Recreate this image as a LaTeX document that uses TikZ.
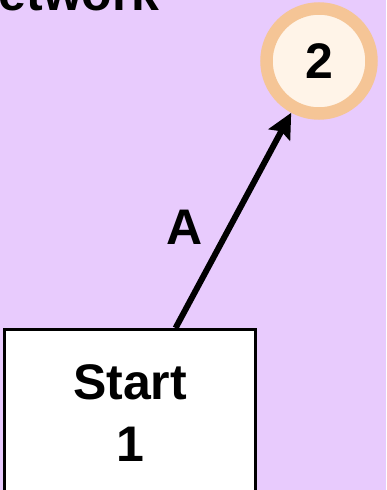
\documentclass[tikz,border=0pt]{standalone}
\usepackage{fontspec}
\setmainfont{Liberation Sans}
\usetikzlibrary{arrows.meta}
\definecolor{bgpurple}{HTML}{E8CBFD}
\definecolor{ringorange}{HTML}{F5C596}
\definecolor{cream}{HTML}{FFF4E8}
\tikzset{
  bigtext/.style={font=\fontsize{50}{62}\selectfont\bfseries},
  startbox/.style={draw=black, line width=3pt, fill=white, minimum width=251pt, minimum height=167pt, align=center, inner sep=0pt, bigtext},
  ringnode/.style={circle, draw=ringorange, line width=12.5pt, fill=cream, minimum size=105pt, inner sep=0pt, bigtext},
  flowarrow/.style={line width=6pt, -{Stealth[length=25pt,width=24pt,inset=4pt]}},
  edgelabel/.style={bigtext, inner sep=0pt}
}
\begin{document}
\begin{tikzpicture}[x=1pt,y=-1pt]
\fill[bgpurple] (0,0) rectangle (386,490);
\useasboundingbox (0,0) rectangle (386,490);
\node[bigtext, anchor=base east, inner sep=0pt] (title) at (160,10) {Network};
\node[ringnode] (two) at (319,61) {2};
\node[startbox] (start) at (130,413) {Start\\1};
\draw[flowarrow] (start) -- (two) node[edgelabel, midway, anchor=east, xshift=-28pt, yshift=-7pt] (lblA) {A};
\end{tikzpicture}
\end{document}
